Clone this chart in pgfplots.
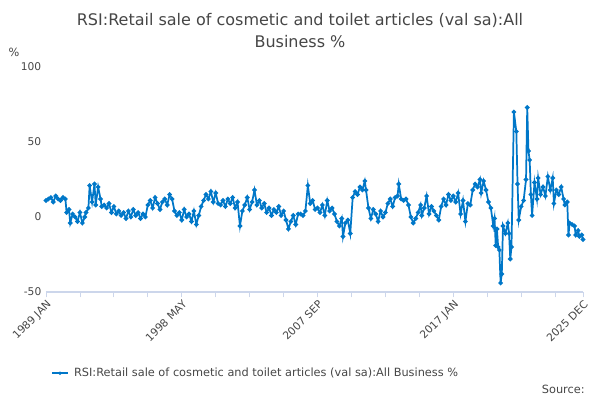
\documentclass[border=0pt]{standalone}
\usepackage{pgfplots}
\pgfplotsset{compat=1.18}
\usepackage{fontspec}
\setmainfont{DejaVu Sans}
\definecolor{ln}{RGB}{0,119,200}
\definecolor{tx}{RGB}{70,70,70}
\definecolor{gr}{RGB}{225,225,225}
\definecolor{ax}{RGB}{204,214,235}
\begin{document}
\begin{tikzpicture}[x=1pt,y=1pt]
\path (0,0) rectangle (450,300);
\node[font=\fontsize{12}{14}\selectfont,text=tx] at (225,285) {RSI:Retail sale of cosmetic and toilet articles (val sa):All};
\node[font=\fontsize{12}{14}\selectfont,text=tx] at (225,268.5) {Business \%};
\node[font=\fontsize{8.5}{10}\selectfont,text=tx] at (10.5,261) {\%};
\begin{axis}[at={(34.5pt,81pt)},anchor=south west,scale only axis,
 width=402.75pt,height=168.75pt,
 xmin=0,xmax=443,ymin=-50,ymax=100,
 ytick={-50,0,50,100},
 xtick={0,28,56,84,112,140,168,196,224,252,280,308,336,364,392,420,443},
 xticklabels={1989 JAN,,,,1998 MAY,,,,2007 SEP,,,,2017 JAN,,,,2025 DEC},
 x tick label style={rotate=45,anchor=north east,font=\fontsize{8}{9}\selectfont,text=tx,inner sep=1pt},
 /pgf/number format/assume math mode=true,
 ymajorgrids,grid style={gr,line width=0.6pt},
 axis y line=none, axis x line*=bottom,
 x axis line style={ax,line width=0.8pt,-},
 xtick style={ax,line width=0.6pt}, major tick length=4pt,
 tick align=outside,
 clip=false]
\pgfplotsextra{\foreach \v in {-50,0,50,100}{\node[anchor=east,font=\fontsize{8}{9}\selectfont,text=tx] at (axis cs:0,\v) {\v};}}
\addplot[color=ln,line width=1.3pt,mark=*,mark size=1pt] coordinates {
(0,11)(2,12)(4,13)(6,10)(8,14)(10,12)(12,11)(14,13)(16,12)(17,3)(19,5)(20,-4)(22,2)(24,0)(26,-3)(28,3)(30,-4)(32,0)(33,3)(35,6)(36,21)(38,10)(40,22)(41,8)(43,20)(45,12)(46,7)(48,8)(50,6)(52,9)(54,3)(56,7)(58,2)(60,4)(62,1)(64,3)(66,-1)(68,4)(70,0)(72,5)(74,1)(76,3)(78,-1)(80,2)(82,0)(84,8)(86,11)(88,6)(90,13)(92,9)(94,5)(96,10)(98,12)(100,8)(102,15)(104,12)(106,4)(108,1)(110,3)(112,-2)(114,5)(116,0)(118,2)(120,-3)(122,4)(124,-5)(126,1)(128,7)(130,11)(132,15)(134,12)(136,17)(138,10)(140,16)(142,9)(144,8)(146,11)(148,7)(150,12)(152,9)(154,13)(156,6)(158,10)(160,-6)(162,4)(164,8)(166,13)(168,5)(170,10)(172,18)(174,8)(176,11)(178,6)(180,9)(182,3)(184,6)(186,1)(188,5)(190,3)(192,7)(194,1)(196,4)(198,-2)(200,-8)(202,-3)(204,1)(206,-5)(208,2)(210,2)(212,1)(214,4)(216,21)(218,9)(220,11)(222,5)(224,6)(226,3)(228,8)(230,1)(232,11)(234,4)(236,6)(238,2)(240,-3)(242,-6)(244,-1)(245,-13)(247,-4)(249,-2)(251,-11)(253,13)(255,17)(257,15)(259,20)(261,18)(263,24)(264,18)(266,6)(268,-1)(270,5)(272,2)(274,-3)(276,4)(278,0)(280,3)(282,9)(284,12)(286,7)(288,13)(290,14)(291,22)(293,12)(295,11)(297,12)(299,8)(301,0)(303,-4)(305,-1)(307,3)(309,8)(310,1)(312,6)(314,14)(316,2)(318,7)(320,4)(322,1)(324,-2)(326,7)(328,12)(330,8)(332,15)(334,11)(336,14)(338,10)(340,16)(342,2)(344,11)(346,-3)(348,9)(350,8)(352,18)(354,22)(356,20)(358,25)(359,16)(361,24)(363,18)(365,10)(367,6)(369,-6)(370,-1)(371,-19)(372,-8)(373,-20)(374,-22)(375,-44)(376,-38)(377,-6)(379,-11)(381,-4)(382,-11)(383,-28)(384,-20)(386,70)(388,57)(389,22)(390,-2)(392,7)(394,11)(396,25)(397,73)(398,44)(399,38)(400,15)(401,1)(403,23)(405,12)(406,26)(408,15)(410,20)(412,14)(414,27)(416,18)(418,26)(419,9)(421,18)(423,15)(425,20)(427,12)(428,8)(430,10)(431,-12)(432,-4)(434,-5)(436,-6)(437,-12)(439,-9)(440,-13)(442,-12)(443,-15)
};
\end{axis}
\draw[ln,line width=1.3pt] (39,20) -- (51,20);
\fill[ln] (45,20) circle (1.4pt);
\node[anchor=west,font=\fontsize{8.5}{10}\selectfont,text=tx] at (52,20) {RSI:Retail sale of cosmetic and toilet articles (val sa):All Business \%};
\node[anchor=east,font=\fontsize{8.5}{10}\selectfont,text=tx] at (442,8) {Source:};
\end{tikzpicture}
\end{document}
